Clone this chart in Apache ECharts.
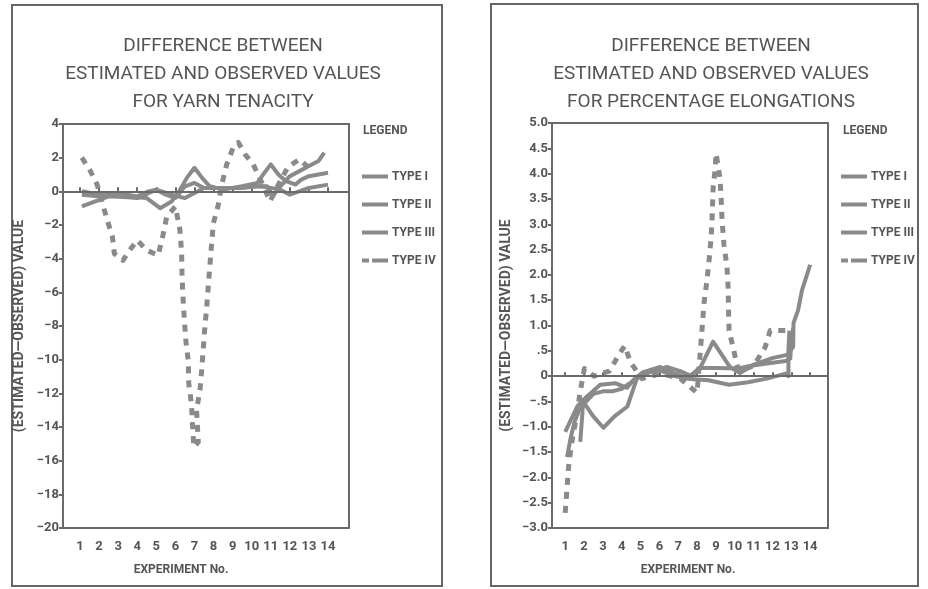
<!DOCTYPE html>
<html>
<head>
<meta charset="utf-8">
<script src="https://cdn.jsdelivr.net/npm/echarts@6/dist/echarts.min.js"></script>
<style>
html,body{margin:0;padding:0;background:#fff;}
#c{width:928px;height:589px;}
</style>
</head>
<body>
<div id="c"></div>
<script>
// ---------- data ----------
const expTicks = [1,2,3,4,5,6,7,8,9,10,11,12,13,14];
const seriesNames = ['TYPE I','TYPE II','TYPE III','TYPE IV'];

// Left panel: yarn tenacity  [experiment, value]
const tenTypeI = [[1.1,-0.9],[1.8,-0.6],[2.5,-0.3],[3.5,-0.3],[4.5,-0.4],[5.2,-1.0],[5.8,-0.6],[6.2,0.0],[6.6,0.8],[7.0,1.4],[7.4,0.8],[7.8,0.3],[8.5,0.1],[9.5,0.3],[10.3,0.5],[10.6,1.0],[11.0,1.6],[11.4,1.0],[11.8,0.6],[12.3,0.4],[12.6,0.7],[13.0,0.9],[14.0,1.1]];
const tenTypeII = [[1.1,-0.2],[2.0,-0.3],[3.0,-0.1],[4.0,-0.3],[4.6,0.0],[5.0,0.1],[5.5,-0.2],[6.0,-0.4],[6.5,0.3],[7.0,0.5],[7.5,0.2],[8.5,0.2],[9.5,0.2],[10.2,0.3],[10.8,0.3],[11.1,-0.3],[11.5,0.3],[12.0,0.9],[12.5,1.2],[13.0,1.5],[13.5,1.8],[13.8,2.3]];
const tenTypeIII = [[1.1,0.0],[2.0,-0.2],[3.0,-0.3],[4.0,-0.4],[5.0,0.1],[5.8,-0.2],[6.5,-0.4],[7.5,0.2],[9.0,0.2],[10.5,0.3],[11.5,0.1],[12.0,-0.2],[13.0,0.2],[14.0,0.4]];
const tenTypeIV = [[1.1,2.0],[1.5,1.3],[1.9,0.4],[2.4,-1.6],[2.7,-2.7],[2.8,-3.7],[3.25,-4.1],[3.6,-3.5],[4.0,-2.9],[4.5,-3.5],[5.1,-3.8],[5.35,-2.6],[5.55,-1.5],[6.0,-0.9],[6.24,-2.3],[6.33,-3.7],[6.35,-5.1],[6.41,-6.5],[6.47,-7.6],[6.55,-8.9],[6.68,-10.1],[6.7,-11.4],[6.85,-12.7],[6.9,-14.0],[6.97,-15.2],[7.2,-14.9],[7.11,-13.0],[7.29,-11.8],[7.38,-10.6],[7.46,-9.4],[7.55,-8.0],[7.64,-6.9],[7.72,-5.7],[7.81,-4.4],[7.9,-3.1],[7.99,-1.9],[8.25,-0.8],[8.43,0.4],[8.69,1.6],[9.03,2.6],[9.3,2.9],[9.65,2.2],[10.08,1.6],[10.5,0.6],[10.96,-0.6],[11.4,0.4],[11.9,1.45],[12.5,1.9],[13.0,1.4]];

// Right panel: percentage elongation  [experiment, value]
const elTypeI = [[1.0,-1.1],[1.64,-0.6],[1.95,-0.47],[2.86,-0.17],[3.65,-0.14],[4.29,-0.23],[4.61,-0.08],[5.14,0.08],[6.04,0.18],[6.73,0.06],[7.47,-0.04],[8.16,0.16],[8.85,0.68],[9.75,0.18],[10.28,0.06],[10.97,0.22],[12.03,0.36],[12.78,0.42],[13.1,0.58],[13.12,1.05],[13.36,1.3],[13.57,1.7],[13.79,1.95],[14.0,2.2]];
const elTypeII = [[1.8,-1.3],[1.9,-0.8],[1.95,-0.5],[2.5,-0.8],[3.03,-1.02],[3.6,-0.8],[4.3,-0.6],[4.6,-0.27],[4.85,0.0],[5.5,0.08],[6.4,0.18],[7.1,0.1],[7.7,0.0],[8.1,0.16],[9.1,0.16],[10.2,0.15],[10.8,0.2],[11.7,0.25],[12.7,0.3],[12.95,0.35],[13.0,0.7],[13.1,0.95]];
const elTypeIII = [[1.1,-1.6],[1.3,-1.2],[1.5,-0.9],[1.7,-0.7],[2.04,-0.53],[2.5,-0.35],[3.0,-0.3],[3.5,-0.3],[4.0,-0.25],[4.6,-0.1],[5.2,0.05],[6.0,0.12],[6.8,0.0],[7.5,-0.05],[8.6,-0.08],[9.7,-0.17],[10.7,-0.12],[11.7,-0.05],[12.7,0.05],[12.85,0.0],[12.85,0.5],[12.9,0.9]];
const elTypeIV = [[1.0,-2.7],[1.1,-2.2],[1.2,-1.7],[1.4,-1.2],[1.6,-0.8],[1.8,-0.3],[2.02,0.15],[2.53,0.0],[3.34,0.1],[3.85,0.42],[4.16,0.6],[4.46,0.28],[5.07,-0.05],[6.09,0.05],[7.11,-0.05],[8.0,-0.33],[8.27,0.95],[8.37,1.45],[8.53,1.9],[8.64,2.3],[8.75,2.75],[8.8,3.15],[8.85,3.7],[8.96,4.1],[9.01,4.4],[9.22,3.9],[9.28,3.5],[9.33,3.05],[9.43,2.6],[9.59,2.15],[9.65,1.75],[9.67,1.3],[9.7,0.9],[10.2,0.1],[11.0,0.2],[11.61,0.57],[11.88,0.9],[12.9,0.9]];

const titleLeft = 'DIFFERENCE BETWEEN\nESTIMATED AND OBSERVED VALUES\nFOR YARN TENACITY';
const titleRight = 'DIFFERENCE BETWEEN\nESTIMATED AND OBSERVED VALUES\nFOR PERCENTAGE ELONGATIONS';
const yName = '(ESTIMATED\u2014OBSERVED) VALUE';
const xName = 'EXPERIMENT No.';
const legendHead = 'LEGEND';

// ---------- chart ----------
const FONT = 'Roboto';
const TXT = '#555';
const LINE = '#8a8a8a';
const AX = '#6a6a6a';

const ICON_SOLID = 'path://M0,0H26V4H0Z';
const ICON_DASH = 'path://M0,0H7V4H0Z M10,0H26V4H10Z';

function xAxisCfg(gi, min, max){
  return {
    type:'value', gridIndex:gi, min:min, max:max,
    axisLine:{show:true, lineStyle:{color:AX, width:2}},
    axisTick:{show:true, inside:true, length:4, customValues:expTicks, lineStyle:{color:AX, width:2}},
    axisLabel:{customValues:expTicks, color:TXT, fontFamily:FONT, fontSize:13, fontWeight:'bold', margin:12},
    splitLine:{show:false}
  };
}
function yAxisCfg(gi, min, max, interval, fmt, gap){
  return {
    type:'value', gridIndex:gi, min:min, max:max, interval:interval,
    axisLine:{show:true, lineStyle:{color:AX, width:2}},
    axisTick:{show:true, length:4, lineStyle:{color:AX, width:2}},
    axisLabel:{color:TXT, fontFamily:FONT, fontSize:13, fontWeight:'bold', margin:4, formatter:fmt},
    splitLine:{show:false},
    name:yName, nameLocation:'middle', nameRotate:90, nameGap:gap,
    nameTextStyle:{color:TXT, fontFamily:FONT, fontSize:14, fontWeight:'bold'}
  };
}
function mkSeries(name, data, gi, dashed){
  return {
    name:name, type:'line', xAxisIndex:gi, yAxisIndex:gi, data:data,
    symbol:'none', smooth:false, silent:true, animation:false,
    lineStyle:{color:LINE, width:dashed?5:4, type:dashed?[7,7]:'solid', cap:'butt', join:'round'},
    itemStyle:{color:LINE}
  };
}
const zeroLine = (gi)=>({
  type:'line', xAxisIndex:gi, yAxisIndex:gi, data:[], silent:true, animation:false,
  markLine:{silent:true, symbol:'none', label:{show:false}, lineStyle:{color:AX, width:2, type:'solid'}, data:[{yAxis:0}]}
});

const elFmt = function(v){
  if (Math.abs(v) < 1e-9) return '0';
  let s = Math.abs(v).toFixed(1);
  if (Math.abs(v) < 1) s = s.replace(/^0/, '');
  return (v < 0 ? '\u2212' : '') + s;
};
const tenFmt = function(v){ return String(v).replace('-', '\u2212'); };

const legendData = seriesNames.map((n, i) => ({name:n, icon: i === 3 ? ICON_DASH : ICON_SOLID}));
function legendCfg(left){
  return {orient:'vertical', left:left, top:165, itemWidth:26, itemHeight:4, itemGap:15,
    data:legendData, selectedMode:false, itemStyle:{color:LINE},
    textStyle:{color:TXT, fontFamily:FONT, fontSize:12, fontWeight:'bold', lineHeight:13, padding:[0,0,0,-1]}};
}

const chart = echarts.init(document.getElementById('c'), null, {renderer:'canvas'});
const option = {
  backgroundColor:'#fff',
  animation:false,
  title:[
    {text:titleLeft, left:218, top:27, textAlign:'center',
     textStyle:{color:TXT, fontFamily:FONT, fontSize:19, fontWeight:'normal', lineHeight:28}},
    {text:titleRight, left:706, top:27, textAlign:'center',
     textStyle:{color:TXT, fontFamily:FONT, fontSize:19, fontWeight:'normal', lineHeight:28}}
  ],
  grid:[
    {left:63, top:124, width:286, height:404, show:true, borderColor:AX, borderWidth:2, backgroundColor:'transparent'},
    {left:552, top:123, width:276, height:405, show:true, borderColor:AX, borderWidth:2, backgroundColor:'transparent'}
  ],
  xAxis:[ xAxisCfg(0, 0.11, 15.1), xAxisCfg(1, 0.3, 14.95) ],
  yAxis:[ yAxisCfg(0, -20, 4, 2, tenFmt, 37), yAxisCfg(1, -3, 5, 0.5, elFmt, 39) ],
  legend:[ legendCfg(357), legendCfg(836) ],
  graphic:[
    {type:'rect', shape:{x:12, y:5, width:430, height:581}, style:{fill:'none', stroke:'#666', lineWidth:2}, silent:true},
    {type:'rect', shape:{x:491, y:4, width:427, height:582}, style:{fill:'none', stroke:'#666', lineWidth:2}, silent:true},
    {type:'text', left:363, top:125, style:{text:legendHead, fill:TXT, font:'bold 12px '+FONT}},
    {type:'text', left:843, top:125, style:{text:legendHead, fill:TXT, font:'bold 12px '+FONT}},
    {type:'text', x:181, y:570, style:{text:xName, fill:TXT, font:'bold 12px '+FONT, align:'center', verticalAlign:'middle'}},
    {type:'text', x:688, y:570, style:{text:xName, fill:TXT, font:'bold 12px '+FONT, align:'center', verticalAlign:'middle'}}
  ],
  series:[
    zeroLine(0), zeroLine(1),
    mkSeries('TYPE I', tenTypeI, 0, false),
    mkSeries('TYPE II', tenTypeII, 0, false),
    mkSeries('TYPE III', tenTypeIII, 0, false),
    mkSeries('TYPE IV', tenTypeIV, 0, true),
    mkSeries('TYPE I', elTypeI, 1, false),
    mkSeries('TYPE II', elTypeII, 1, false),
    mkSeries('TYPE III', elTypeIII, 1, false),
    mkSeries('TYPE IV', elTypeIV, 1, true)
  ]
};
chart.setOption(option);
</script>
</body>
</html>
